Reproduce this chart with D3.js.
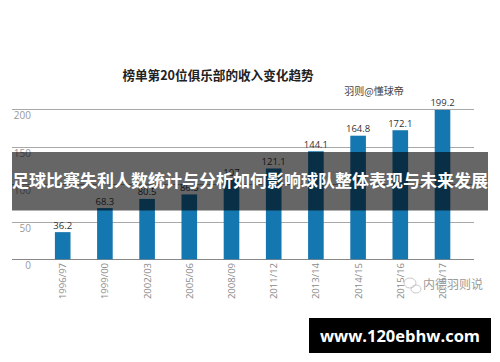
<!DOCTYPE html>
<html><head><meta charset="utf-8">
<script src="https://cdn.jsdelivr.net/npm/d3@7/dist/d3.min.js"></script>
<style>html,body{margin:0;padding:0;background:#fff;}svg{display:block;}</style>
</head><body>
<script>
const categories = ["1996/97","1999/00","2002/03","2005/06","2008/09","2011/12","2013/14","2014/15","2015/16","2016/17"];
const revenues = [36.2, 68.3, 80.5, 86.5, 107.0, 121.1, 144.1, 164.8, 172.1, 199.2];
const valueLabels = ["36.2","68.3","80.5","86.5","107","121.1","144.1","164.8","172.1","199.2"];
const yTicks = [0, 50, 100, 150, 200];
const title = "榜单第20位俱乐部的收入变化趋势";
const source = "羽则@懂球帝";
const banner = "足球比赛失利人数统计与分析如何影响球队整体表现与未来发展";
const watermark = "内德羽则说";
const url = "www.120ebhw.com";

const W = 500, H = 362;
const svg = d3.select("body").append("svg").attr("width", W).attr("height", H);
const cjk = "'Noto Sans CJK SC','Noto Sans',sans-serif";
const lat = "'Open Sans','Noto Sans',sans-serif";

const x = d3.scaleBand().domain(categories).range([41.6, 463.6]).paddingInner(0.63).paddingOuter(0.315);
const y = d3.scaleLinear().domain([0, 200]).range([259.3, 109.3]);

// title
svg.append("text").attr("x", 218).attr("y", 80).attr("text-anchor", "middle")
  .attr("font-family", cjk).attr("font-weight", "bold").attr("font-size", 12.6).attr("fill", "#222").text(title);
svg.append("text").attr("x", 374).attr("y", 94.5).attr("text-anchor", "middle")
  .attr("font-family", cjk).attr("font-size", 10).attr("fill", "#444").text(source);

// gridlines
const grid = svg.append("g");
grid.selectAll("line").data(yTicks).join("line")
  .attr("x1", 12).attr("x2", 474)
  .attr("y1", d => Math.round(y(d)) + 0.5).attr("y2", d => Math.round(y(d)) + 0.5)
  .attr("stroke", d => d === 0 ? "#888" : "#a8a8a8").attr("stroke-width", 1);
grid.selectAll("text").data(yTicks).join("text")
  .attr("x", 31).attr("y", d => y(d) + 10).attr("text-anchor", "end")
  .attr("font-family", lat).attr("font-size", 10).attr("fill", "#999").text(d => d);

// bars
svg.append("g").selectAll("rect").data(categories).join("rect")
  .attr("x", d => x(d)).attr("width", x.bandwidth())
  .attr("y", (d, i) => y(revenues[i])).attr("height", (d, i) => y(0) - y(revenues[i]))
  .attr("fill", "#1577b0");

// value labels
svg.append("g").selectAll("text").data(categories).join("text")
  .attr("x", d => x(d) + x.bandwidth() / 2).attr("y", (d, i) => y(revenues[i]) - 3.5)
  .attr("text-anchor", "middle").attr("font-family", lat).attr("font-size", 9.5).attr("fill", "#333")
  .text((d, i) => valueLabels[i]);

// x axis labels (rotated)
svg.append("g").selectAll("text").data(categories).join("text")
  .attr("transform", d => `translate(${x(d) + x.bandwidth() / 2 + 3.5},${263}) rotate(-90)`)
  .attr("text-anchor", "end").attr("font-family", lat).attr("font-size", 9.5).attr("fill", "#8a8a8a")
  .text(d => d);

// watermark
const wm = svg.append("g").attr("fill", "none").attr("stroke", "#bbb").attr("stroke-width", 0.8);
wm.append("ellipse").attr("cx", 410).attr("cy", 283).attr("rx", 6).attr("ry", 5);
wm.append("ellipse").attr("cx", 416).attr("cy", 289).attr("rx", 5).attr("ry", 4);
svg.append("text").attr("x", 453).attr("y", 289).attr("text-anchor", "middle")
  .attr("font-family", cjk).attr("font-size", 12).attr("fill", "#9a9a9a").text(watermark);

// banner
svg.append("rect").attr("x", 12).attr("y", 152).attr("width", 476).attr("height", 58.5)
  .attr("fill", "rgba(0,0,0,0.6)");
svg.append("text").attr("x", 250).attr("y", 187).attr("text-anchor", "middle")
  .attr("font-family", cjk).attr("font-weight", "bold").attr("font-size", 17).attr("fill", "#fff")
  .attr("textLength", 476).attr("lengthAdjust", "spacingAndGlyphs").text(banner);

// url box
svg.append("rect").attr("x", 309).attr("y", 318).attr("width", 182).attr("height", 35).attr("fill", "#000");
svg.append("text").attr("x", 400).attr("y", 341.5).attr("text-anchor", "middle")
  .attr("font-family", "'Open Sans','DejaVu Sans',sans-serif").attr("font-weight", "bold").attr("font-size", 16.5).attr("fill", "#fff")
  .text(url);
</script>
</body></html>
